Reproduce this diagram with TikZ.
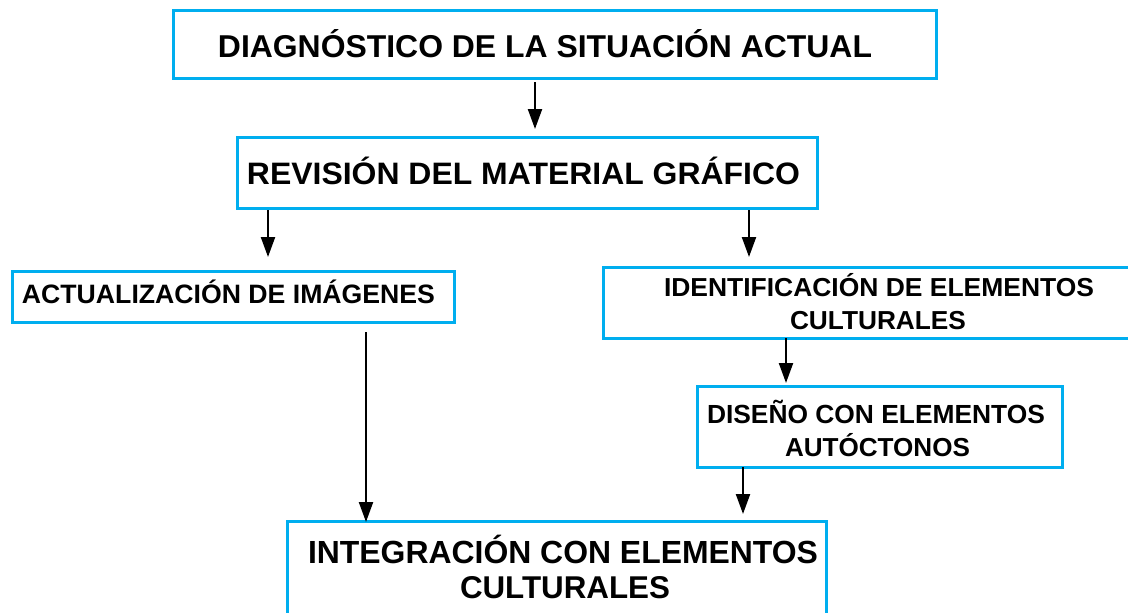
\documentclass[tikz,border=0pt]{standalone}
\usepackage{fontspec}
\setmainfont{Liberation Sans}
\usetikzlibrary{arrows.meta}
\definecolor{boxcyan}{HTML}{00AEEF}
\newcommand{\fitline}[3]{\resizebox{#1pt}{\height}{\fontsize{#2}{#2}\selectfont\bfseries #3}}
\begin{document}
\begin{tikzpicture}[x=1pt,y=-1pt,
  box/.style={draw=boxcyan,line width=3pt,fill=none,inner sep=0pt,outer sep=0pt},
  txt/.style={anchor=base,inner sep=0pt,text=black},
  arr/.style={draw=black,line width=2.2pt,-{Triangle[length=20pt,width=14pt]}}]
\useasboundingbox (0,0) rectangle (1128,613);
\clip (0,0) rectangle (1128,613);
\fill[white] (0,0) rectangle (1128,613);
% boxes
\node[box,minimum width=763pt,minimum height=68pt] (b1) at (554.5,44) {};
\node[box,minimum width=580pt,minimum height=71pt] (b2) at (527,173) {};
\node[box,minimum width=442pt,minimum height=51pt] (b3) at (233,296.5) {};
\node[box,minimum width=537pt,minimum height=71pt] (b4) at (871.5,302.5) {};
\node[box,minimum width=365pt,minimum height=81pt] (b5) at (879.5,426.5) {};
\node[box,minimum width=539pt,minimum height=119pt] (b6) at (556.5,581) {};
% texts
\node[txt] (t1) at (545,57) {\fitline{654}{31.6}{DIAGNÓSTICO DE LA SITUACIÓN ACTUAL}};
\node[txt] (t2) at (523.5,184) {\fitline{553}{31}{REVISIÓN DEL MATERIAL GRÁFICO}};
\node[txt] (t3) at (228.5,303) {\fitline{413}{26.6}{ACTUALIZACIÓN DE IMÁGENES}};
\node[txt] (t4a) at (879,296) {\fitline{430}{26}{IDENTIFICACIÓN DE ELEMENTOS}};
\node[txt] (t4b) at (878,329) {\fitline{176}{26}{CULTURALES}};
\node[txt] (t5a) at (876,423) {\fitline{338}{26.2}{DISEÑO CON ELEMENTOS}};
\node[txt] (t5b) at (877.5,456) {\fitline{185}{26}{AUTÓCTONOS}};
\node[txt] (t6a) at (563,563) {\fitline{510}{32}{INTEGRACIÓN CON ELEMENTOS}};
\node[txt] (t6b) at (565,598) {\fitline{210}{31.5}{CULTURALES}};
% arrow ends
\coordinate (a1s) at (535,82);  \coordinate (a1e) at (535,129);
\coordinate (a2s) at (268,210); \coordinate (a2e) at (268,257);
\coordinate (a3s) at (749,210); \coordinate (a3e) at (749,257);
\coordinate (a4s) at (786,338); \coordinate (a4e) at (786,383);
\coordinate (a5s) at (366,332); \coordinate (a5e) at (366,522);
\coordinate (a6s) at (743,467); \coordinate (a6e) at (743,514);
\draw[arr] (a1s) -- (a1e);
\draw[arr] (a2s) -- (a2e);
\draw[arr] (a3s) -- (a3e);
\draw[arr] (a4s) -- (a4e);
\draw[arr] (a5s) -- (a5e);
\draw[arr] (a6s) -- (a6e);
\end{tikzpicture}
\end{document}
